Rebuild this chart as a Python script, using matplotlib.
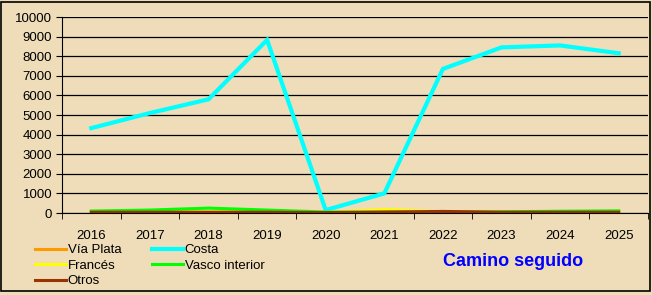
import matplotlib.pyplot as plt
import matplotlib.patches as patches
import numpy as np

plt.rcParams['font.family'] = ['Liberation Sans', 'DejaVu Sans']

years = ['2016', '2017', '2018', '2019', '2020', '2021', '2022', '2023', '2024', '2025']
via_plata = [30, 30, 30, 30, 20, 40, 40, 30, 30, 30]
costa = [4330, 5100, 5800, 8830, 150, 1000, 7350, 8450, 8550, 8150]
frances = [60, 60, 60, 60, 30, 170, 60, 40, 50, 60]
vasco = [100, 150, 250, 150, 50, 40, 30, 60, 90, 110]
otros = [40, 40, 40, 40, 20, 50, 80, 40, 40, 40]

series = [
    ('Vía Plata', via_plata, '#FF9900', 2.2),
    ('Costa', costa, '#00FFFF', 3.0),
    ('Francés', frances, '#FFFF00', 2.2),
    ('Vasco interior', vasco, '#00FF00', 2.2),
    ('Otros', otros, '#993300', 2.2),
]

fig = plt.figure(figsize=(6.52, 2.95), dpi=100)
fig.patch.set_facecolor('#EEDDB8')
# outer frame
fig.add_artist(patches.Rectangle((0.002, 0.012), 0.995, 0.982, transform=fig.transFigure,
                                 fill=False, edgecolor='black', linewidth=1.2))

ax = fig.add_axes([62 / 652, 82 / 295, 586 / 652, 196 / 295])
ax.set_facecolor('none')

x = np.arange(len(years))
lines = {}
for name, vals, col, lw in series:
    lines[name], = ax.plot(x, vals, color=col, linewidth=lw, label=name, solid_joinstyle='miter')

ax.set_xlim(-0.5, len(years) - 0.5)
ax.set_ylim(0, 10000)
ax.set_yticks(range(0, 10001, 1000))
ax.yaxis.grid(True, color='black', linewidth=0.9)
ax.set_axisbelow(True)

ax.set_xticks(x)
ax.set_xticklabels(years)
ax.set_xticks(np.arange(-0.5, len(years), 1), minor=True)
ax.tick_params(axis='x', which='major', length=0, pad=12, labelsize=9.5)
ax.tick_params(axis='x', which='minor', length=4, direction='out', color='black')
ax.tick_params(axis='y', length=4, direction='out', labelsize=9.5, pad=3)

for s in ['top', 'right']:
    ax.spines[s].set_visible(False)
ax.spines['left'].set_color('black')
ax.spines['bottom'].set_color('black')

# legend fills column by column, so order to read row-wise like the original
order = ['Vía Plata', 'Francés', 'Otros', 'Costa', 'Vasco interior']
ax.legend([lines[n] for n in order], order, loc='upper left',
          bbox_to_anchor=(-0.058, -0.125), ncol=2, frameon=False,
          fontsize=9.5, handlelength=2.4, handletextpad=0.1, labelspacing=0.25,
          columnspacing=2.3, borderpad=0)

fig.text(513 / 652, 1 - 262 / 295, 'Camino seguido', color='#0000FF', fontsize=13,
         fontweight='bold', ha='center', va='center')

fig.savefig('out.png', dpi=100, facecolor=fig.get_facecolor())
